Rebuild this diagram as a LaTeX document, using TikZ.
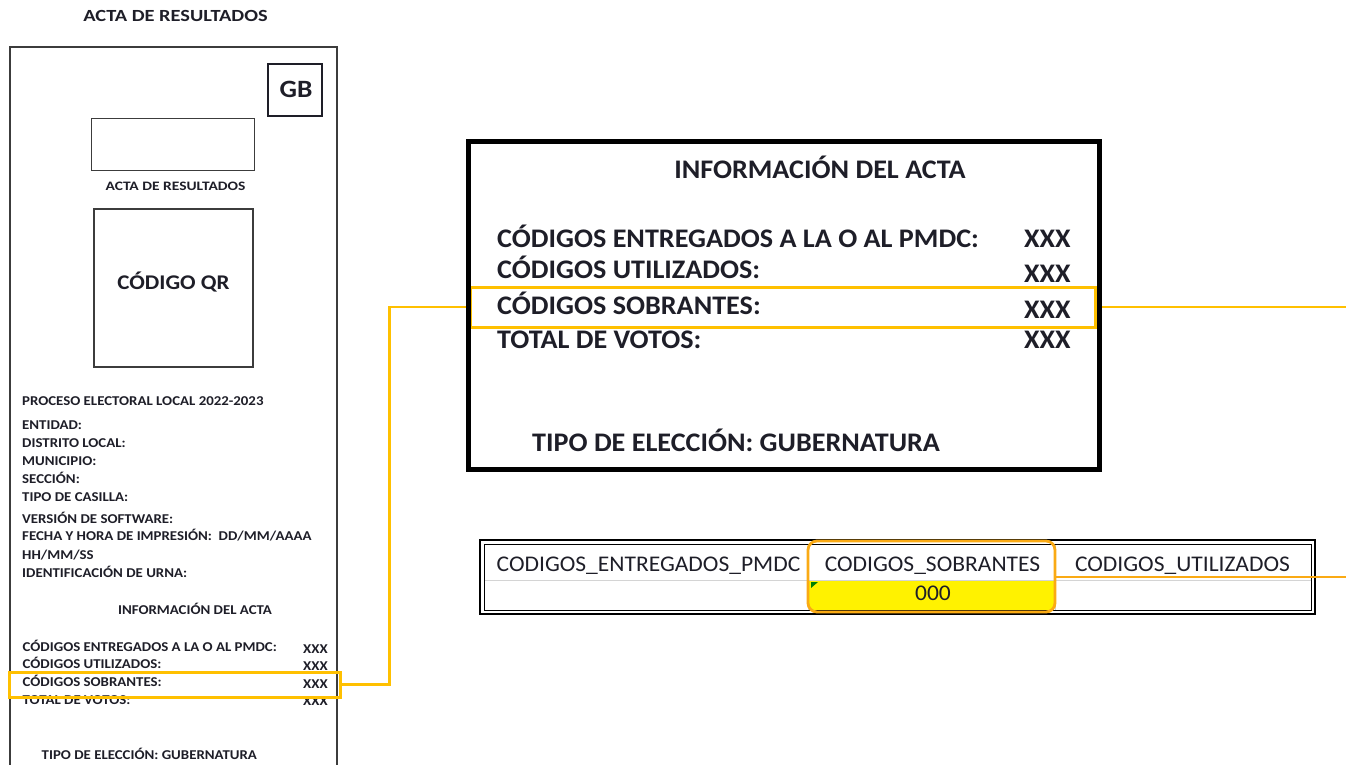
\documentclass[tikz,border=0pt]{standalone}
\usepackage{fontspec}
\setmainfont{Carlito}
\newfontfamily\sA[FakeStretch=1.05]{Carlito}
\newfontfamily\sB[FakeStretch=1.10]{Carlito}
\newfontfamily\sC[FakeStretch=1.20]{Carlito}
\definecolor{txt}{RGB}{30,30,40}
\definecolor{gold}{RGB}{255,192,0}
\definecolor{orng}{RGB}{250,170,20}
\definecolor{framec}{RGB}{60,60,60}
\definecolor{gridc}{RGB}{212,212,212}
\definecolor{cellgreen}{RGB}{0,128,0}
\newcommand{\fsz}[1]{\fontsize{#1}{#1}\selectfont}
\tikzset{
  tx/.style={inner sep=0pt, text=txt},
  lw/.style={tx, anchor=base west, font=\sB\bfseries\fsz{13.5}},
  lc/.style={tx, anchor=base, font=\sB\bfseries\fsz{13.5}},
  bw/.style={tx, anchor=base west, font=\sA\bfseries\fsz{26.8}},
  bc/.style={tx, anchor=base, font=\sA\bfseries\fsz{26.8}},
  hd/.style={tx, anchor=base, font=\sA\fsz{22.4}},
  goldbox/.style={draw=gold, line width=3pt, inner sep=0pt},
  goldline/.style={draw=gold, line width=2.5pt},
  orngline/.style={draw=orng, line width=2pt},
}
\begin{document}
\begin{tikzpicture}[x=1pt,y=-1pt]
\path[use as bounding box] (0,0) rectangle (1346,765);

% ---------- left panel ----------
\node[tx, anchor=base, font=\sC\bfseries\fsz{17}] (title) at (175.5,22) {ACTA DE RESULTADOS};
\draw[framec, line width=1.3pt] (10,766) -- (10,47) -- (337,47) -- (337,766);
\node[draw=txt, line width=1.2pt, minimum width=54pt, minimum height=52pt, inner sep=0pt] (gbbox) at (295,90) {};
\node[tx, anchor=base, font=\sB\bfseries\fsz{24.9}] (gb) at (296,98) {GB};
\node[draw=framec, line width=1pt, minimum width=163pt, minimum height=51pt, inner sep=0pt] (blank) at (172.5,144.5) {};
\node[tx, anchor=base, font=\sC\bfseries\fsz{12.9}] (acta2) at (175.5,190) {ACTA DE RESULTADOS};
\node[draw=framec, line width=1.2pt, minimum width=159pt, minimum height=158pt, inner sep=0pt] (qrbox) at (173.5,288) {};
\node[tx, anchor=base, font=\sB\bfseries\fsz{20.9}] (qr) at (173.5,289.5) {CÓDIGO QR};

\node[lw] (l1) at (22,405) {PROCESO ELECTORAL LOCAL 2022-2023};
\node[lw] (l2) at (22,429) {ENTIDAD:};
\node[lw] (l3) at (22,447) {DISTRITO LOCAL:};
\node[lw] (l4) at (22,465) {MUNICIPIO:};
\node[lw] (l5) at (22,483) {SECCIÓN:};
\node[lw] (l6) at (22,501) {TIPO DE CASILLA:};
\node[lw] (l7) at (22,523) {VERSIÓN DE SOFTWARE:};
\node[lw] (l8) at (22,540.5) {FECHA Y HORA DE IMPRESIÓN:\ \ DD/MM/AAAA};
\node[lw] (l9) at (22,559) {HH/MM/SS};
\node[lw] (l10) at (22,577) {IDENTIFICACIÓN DE URNA:};

\node[lc] (sinfo) at (195,614) {INFORMACIÓN DEL ACTA};
\node[lw] (s1) at (22.5,651.5) {CÓDIGOS ENTREGADOS A LA O AL PMDC:};
\node[lw] (s2) at (22.5,668) {CÓDIGOS UTILIZADOS:};
\node[lw] (s3) at (22.5,686) {CÓDIGOS SOBRANTES:};
\node[lw] (s4) at (22.5,704) {TOTAL DE VOTOS:};
\node[lw] (sx1) at (303,653) {XXX};
\node[lw] (sx2) at (303,670) {XXX};
\node[lw] (sx3) at (303,688) {XXX};
\node[lw] (sx4) at (303,705) {XXX};
\node[lw] (stipo) at (41.5,759.5) {TIPO DE ELECCIÓN: GUBERNATURA};

\node[goldbox, minimum width=331pt, minimum height=25pt] (ysmall) at (174.5,684.5) {};

% ---------- big info box ----------
\node[goldbox, minimum width=625pt, minimum height=40pt] (ybig) at (782.5,307) {};
\coordinate (edgeA) at (1346,307);
\draw[goldline] (ybig.east) -- (ybig.east -| edgeA);
\draw[goldline] (ysmall.east) -- ++(48,0) |- (ybig.west);

\node[draw=black, line width=5pt, minimum width=630.5pt, minimum height=327.5pt, inner sep=0pt] (bigbox) at (783.75,305.25) {};
\node[bc] (binfo) at (820,178) {INFORMACIÓN DEL ACTA};
\node[bw] (b1) at (497,247) {CÓDIGOS ENTREGADOS A LA O AL PMDC:};
\node[bw] (b2) at (497,278) {CÓDIGOS UTILIZADOS:};
\node[bw] (b3) at (497,314) {CÓDIGOS SOBRANTES:};
\node[bw] (b4) at (497,348) {TOTAL DE VOTOS:};
\node[bw] (bx1) at (1024,247) {XXX};
\node[bw] (bx2) at (1024,282) {XXX};
\node[bw] (bx3) at (1024,318) {XXX};
\node[bw] (bx4) at (1024,348) {XXX};
\node[bw] (btipo) at (532,451) {TIPO DE ELECCIÓN: GUBERNATURA};

% ---------- table ----------
\begin{scope}
\clip[rounded corners=9pt] (808,541) rectangle (1055,612);
\fill[yellow] (808,580.5) rectangle (1055,612);
\end{scope}
\fill[cellgreen] (811,582) -- (818,582) -- (811,588) -- cycle;
\draw[gridc, line width=1pt] (484,580.5) -- (1311,580.5);
\draw[gridc, line width=1pt] (808,543.5) -- (808,610.5);
\draw[gridc, line width=1pt] (1055,543.5) -- (1055,610.5);
\node[draw=black, line width=2.5pt, minimum width=835pt, minimum height=74pt, inner sep=0pt] (tbl) at (897.5,577) {};
\draw[black, line width=0.8pt] (484,544) rectangle (1311,610);
\node[hd] (h1) at (648.5,571) {CODIGOS\_ENTREGADOS\_PMDC};
\node[hd] (h2) at (932.5,571) {CODIGOS\_SOBRANTES};
\node[hd] (h3) at (1182.5,571) {CODIGOS\_UTILIZADOS};
\node[hd] (v2) at (933,600.5) {000};
\node[draw=orng, line width=2.8pt, rounded corners=9pt, minimum width=247pt, minimum height=71pt, inner sep=0pt] (obox) at (931.5,576.5) {};
\coordinate (edgeB) at (1346,578);
\draw[orngline] (obox.east) -- (obox.east -| edgeB);
\end{tikzpicture}
\end{document}
